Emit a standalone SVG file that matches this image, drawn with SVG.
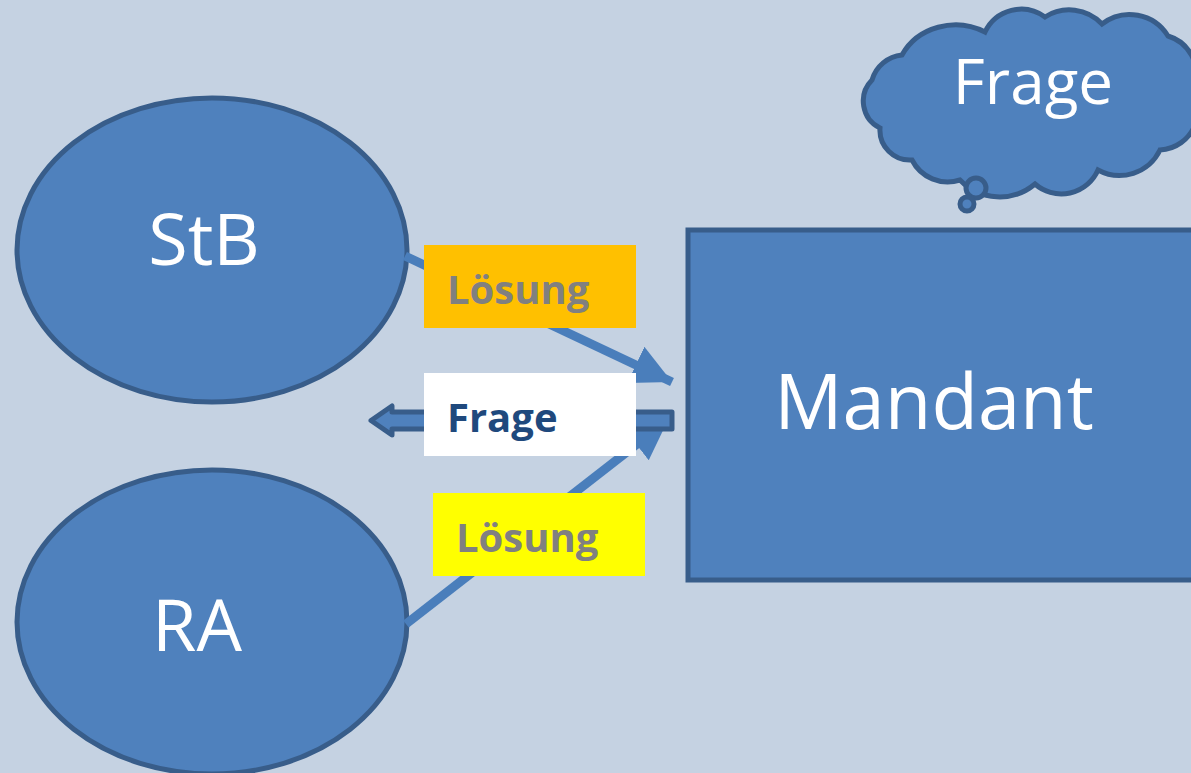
<svg xmlns="http://www.w3.org/2000/svg" width="1191" height="773" viewBox="0 0 1191 773">
<style>
.node{fill:#4F81BD;stroke:#385D8A;stroke-width:5}
.big{font-family:"Open Sans","Liberation Sans",sans-serif;fill:#fff}
.lbl{font-family:"Open Sans","Liberation Sans",sans-serif;font-weight:bold;font-size:40px}
.conn{stroke:#4A7EBB;stroke-width:9;fill:none}
</style>
<defs>
<marker id="ah" markerUnits="userSpaceOnUse" markerWidth="46" markerHeight="46" viewBox="0 0 46 46" refX="40" refY="23" orient="auto">
<path d="M0,3 L40,23 L0,43 Z" fill="#4A7EBB"/>
</marker>
</defs>
<rect width="1191" height="773" fill="#C5D2E2"/>
<g id="stb">
<ellipse class="node" cx="212" cy="250" rx="195" ry="152"/>
<text class="big" x="204" y="265" font-size="72" text-anchor="middle">StB</text>
</g>
<g id="ra">
<ellipse class="node" cx="212" cy="622" rx="195" ry="152"/>
<text class="big" x="197" y="651" font-size="72" text-anchor="middle">RA</text>
</g>
<g id="mandant">
<rect class="node" x="688" y="230" width="520" height="350"/>
<text class="big" x="934" y="429" font-size="76" text-anchor="middle">Mandant</text>
</g>
<g id="cloud">
<path class="node" d="M880,128 A30,30 0 0 1 872,80 A35,35 0 0 1 902,55 A60,55 0 0 1 985,32 A40,40 0 0 1 1045,17 A45,45 0 0 1 1102,24 A45,45 0 0 1 1168,36 A40,40 0 0 1 1195,85 L1195,125 A40,40 0 0 1 1160,150 A45,45 0 0 1 1098,170 A40,40 0 0 1 1035,184 A55,55 0 0 1 960,180 A40,40 0 0 1 912,160 A30,30 0 0 1 880,128 Z"/>
<circle class="node" cx="976" cy="188" r="10" stroke-width="4"/>
<circle class="node" cx="967" cy="204" r="7" stroke-width="4"/>
<text class="big" x="1033" y="104" font-size="62" text-anchor="middle">Frage</text>
</g>
<g id="connectors">
<line class="conn" x1="405" y1="256" x2="672" y2="382" marker-end="url(#ah)"/>
<line class="conn" x1="406" y1="624" x2="668" y2="420" marker-end="url(#ah)"/>
<path d="M672,412 L672,429 L392,429 L392,435 L371,420.5 L392,406 L392,412 Z" fill="#4F81BD" stroke="#385D8A" stroke-width="5" stroke-linejoin="round"/>
</g>
<g id="label-loesung1">
<rect x="424" y="245" width="212" height="83" fill="#FFC000"/>
<text class="lbl" x="447" y="304" fill="#808080">Lösung</text>
</g>
<g id="label-frage">
<rect x="424" y="373" width="212" height="83" fill="#FFFFFF"/>
<text class="lbl" x="447" y="432" fill="#1F497D">Frage</text>
</g>
<g id="label-loesung2">
<rect x="433" y="493" width="212" height="83" fill="#FFFF00"/>
<text class="lbl" x="456" y="552" fill="#808080">Lösung</text>
</g>
</svg>
